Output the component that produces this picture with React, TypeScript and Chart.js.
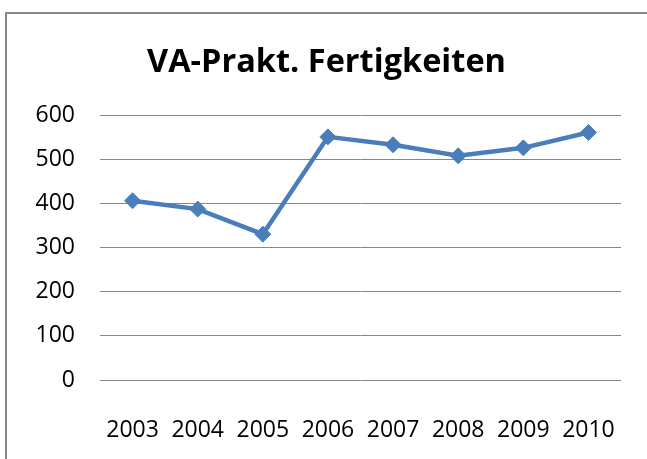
import React, { useEffect, useRef } from "react";
import { Chart, registerables } from "chart.js";

Chart.register(...registerables);

const chartTitle = "VA-Prakt. Fertigkeiten";
const years = ["2003", "2004", "2005", "2006", "2007", "2008", "2009", "2010"];
const values = [407, 388, 331, 552, 534, 509, 527, 562];
const yTicks = [0, 100, 200, 300, 400, 500, 600];

export default function App() {
  const ref = useRef<HTMLCanvasElement>(null);

  useEffect(() => {
    if (!ref.current) return;
    const chart = new Chart(ref.current, {
      type: "line",
      data: {
        labels: years,
        datasets: [
          {
            data: values,
            borderColor: "#4A7EBB",
            backgroundColor: "#4A7EBB",
            borderWidth: 4.5,
            pointStyle: "rectRot",
            pointRadius: 8,
            pointBorderWidth: 1,
            pointBackgroundColor: "#4A7EBB",
            pointBorderColor: "#4A7EBB",
            tension: 0,
          },
        ],
      },
      options: {
        responsive: false,
        animation: false,
        layout: { padding: { left: 32, right: 26, top: 0, bottom: 0 } },
        plugins: {
          legend: { display: false },
          tooltip: { enabled: false },
          title: {
            display: true,
            text: chartTitle,
            color: "#000000",
            font: { family: "'Open Sans'", size: 32.5, weight: "bold", lineHeight: 1.2 },
            padding: { top: 43, bottom: 33.7 },
          },
        },
        scales: {
          x: {
            offset: true,
            grid: { display: false },
            border: { display: false },
            ticks: {
              color: "#000000",
              padding: 29,
              maxRotation: 0,
              autoSkip: false,
              font: { family: "'Open Sans'", size: 23 },
            },
            afterFit: (scale: any) => {
              scale.height = 79;
            },
          },
          y: {
            min: yTicks[0],
            max: yTicks[yTicks.length - 1],
            border: { display: false },
            grid: { color: "#868686", lineWidth: 1, drawTicks: false },
            ticks: {
              stepSize: 100,
              color: "#000000",
              padding: 25,
              font: { family: "'Open Sans'", size: 23 },
            },
            afterFit: (scale: any) => {
              scale.width = 68;
            },
          },
        },
      },
    });
    return () => chart.destroy();
  }, []);

  return (
    <div
      style={{
        position: "fixed",
        left: 0,
        top: 0,
        width: 647,
        height: 459,
        overflow: "hidden",
        background: "#ffffff",
      }}
    >
      <div
        style={{
          position: "absolute",
          left: 5,
          top: 12,
          width: 700,
          height: 500,
          borderLeft: "2px solid #878787",
          borderTop: "2px solid #878787",
          boxSizing: "border-box",
        }}
      />
      <canvas
        ref={ref}
        width={647}
        height={459}
        style={{ position: "absolute", left: 0, top: 0, width: 647, height: 459 }}
      />
    </div>
  );
}
